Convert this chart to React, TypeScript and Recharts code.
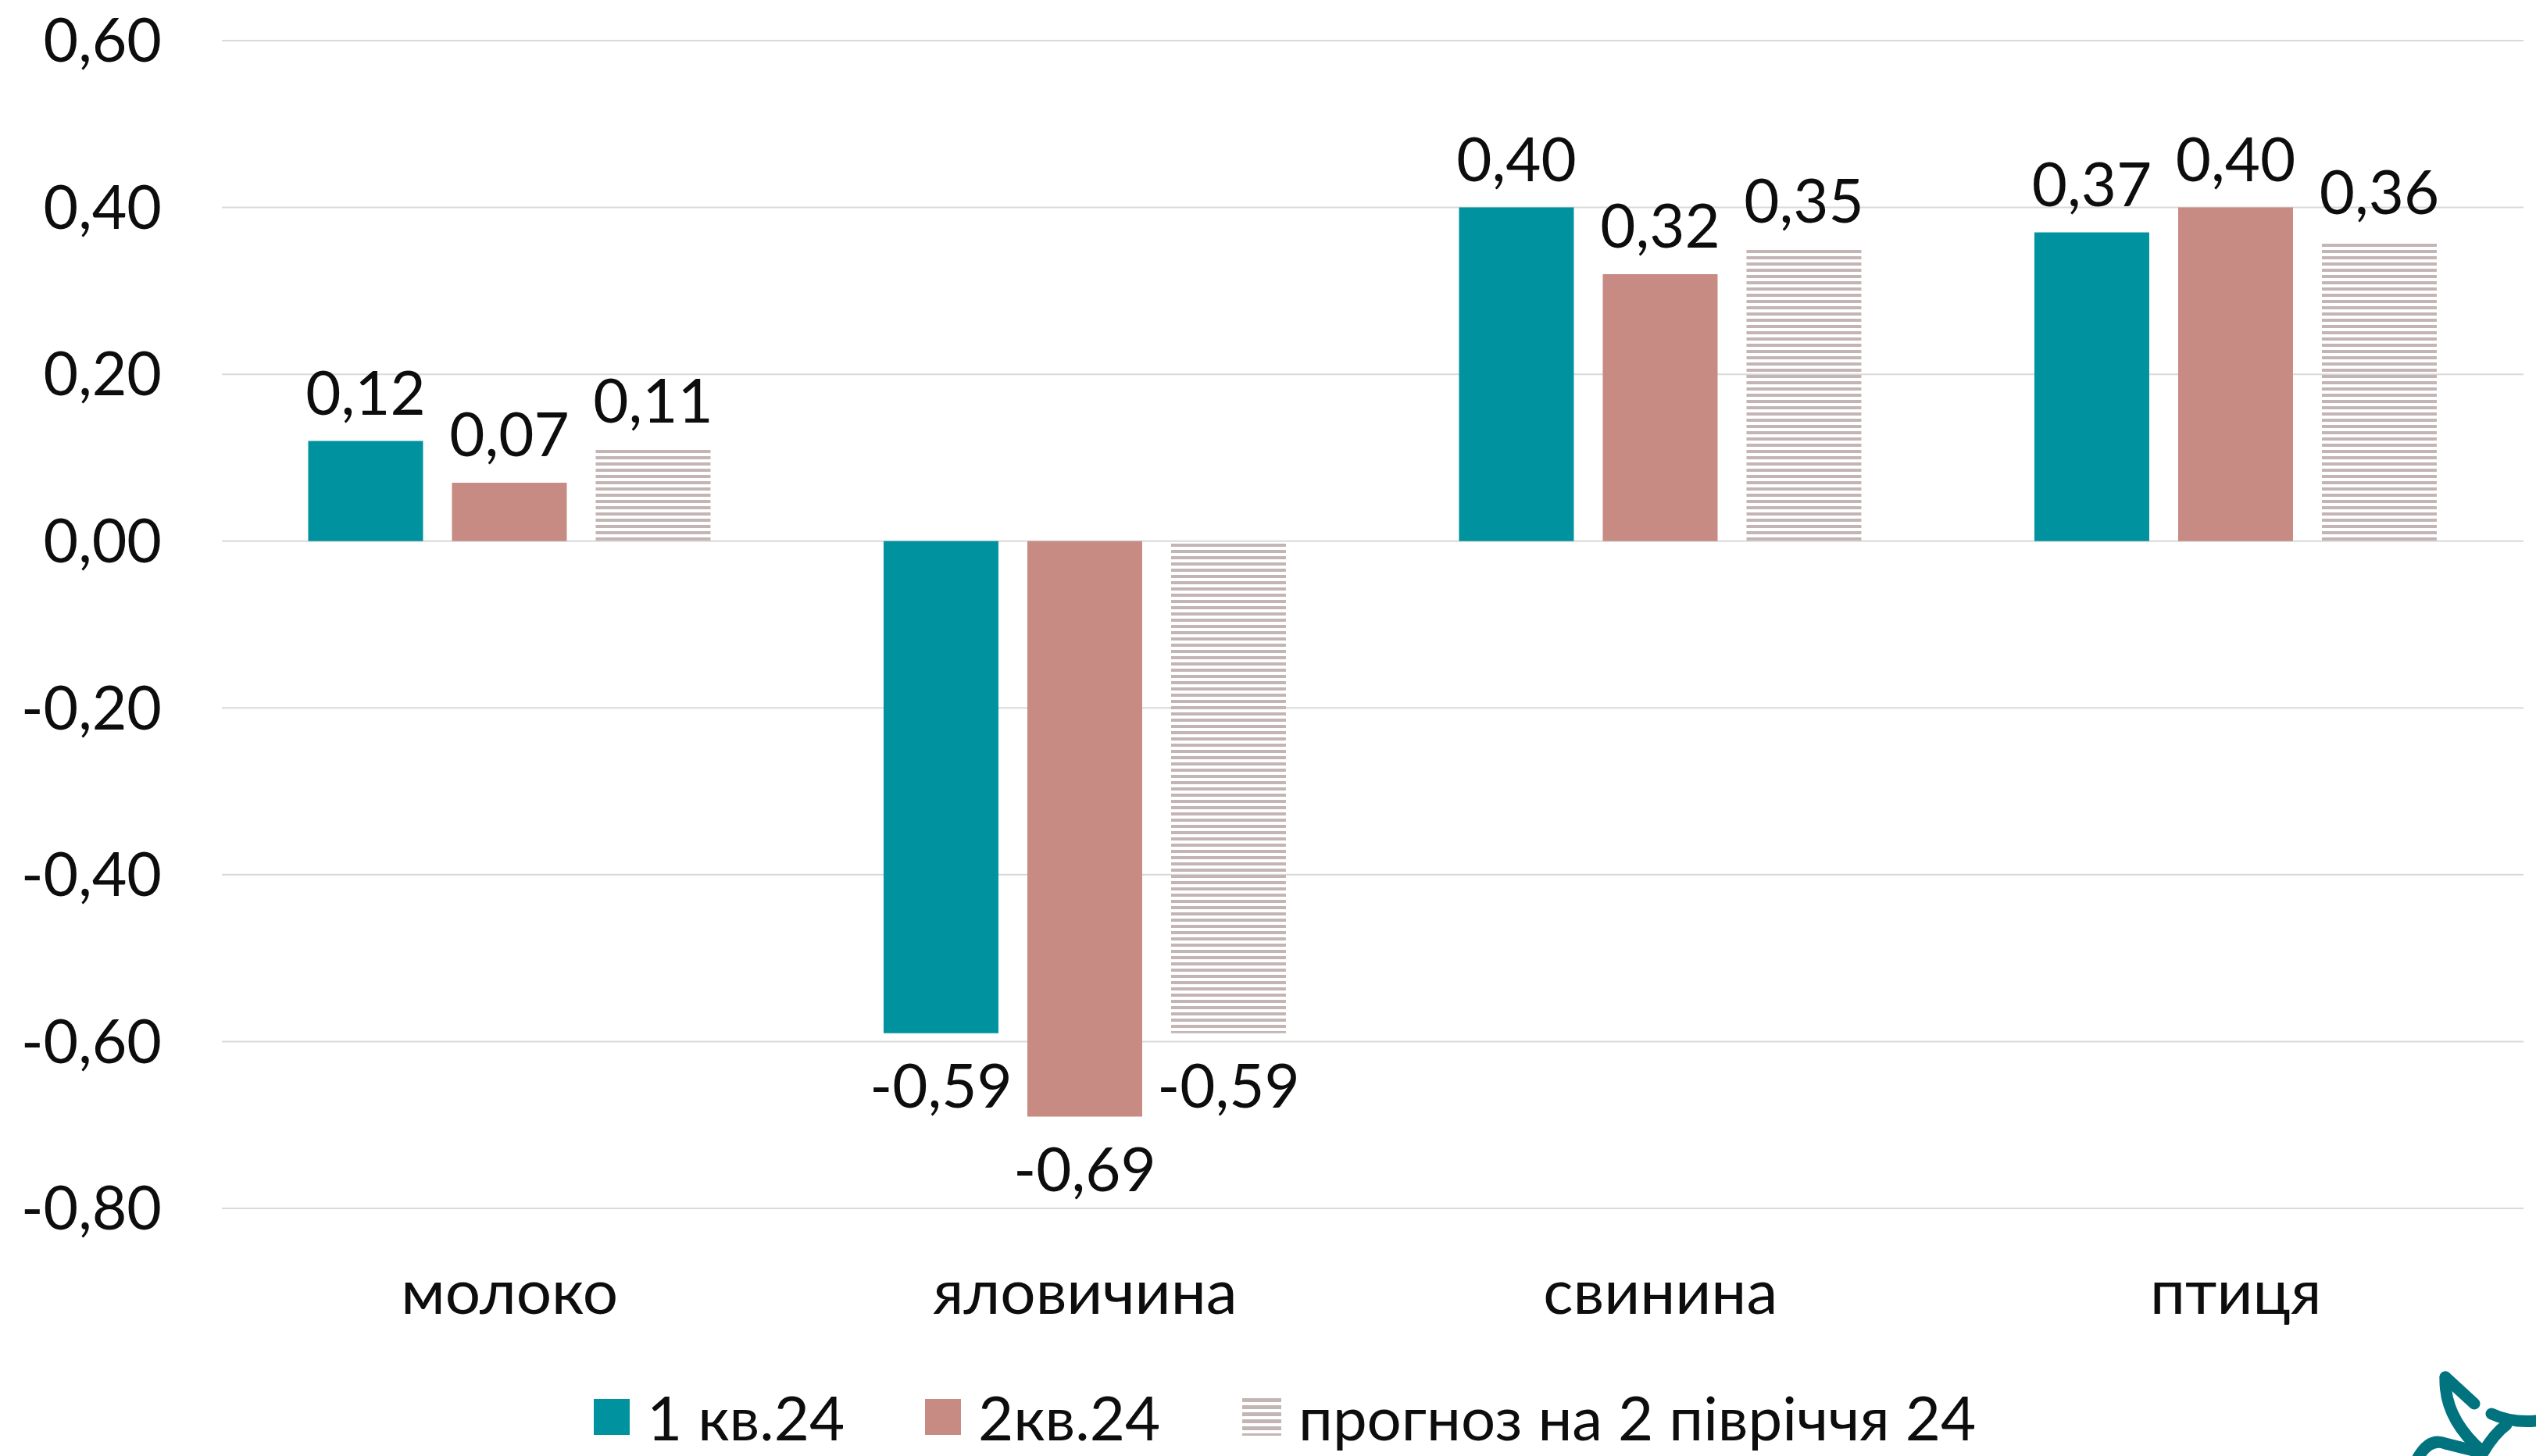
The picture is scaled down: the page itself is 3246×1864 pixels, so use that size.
import { BarChart, Bar, XAxis, YAxis, CartesianGrid, Legend, LabelList } from 'recharts';

const categories = ['молоко', 'яловичина', 'свинина', 'птиця'];
const q1Values = [0.12, -0.59, 0.4, 0.37];
const q2Values = [0.07, -0.69, 0.32, 0.4];
const forecastValues = [0.11, -0.59, 0.35, 0.36];
const yTicks = [-0.8, -0.6, -0.4, -0.2, 0, 0.2, 0.4, 0.6];
const seriesNames = ['1 кв.24', '2кв.24', 'прогноз на 2 півріччя 24'];

const TEAL = '#00939F';
const ROSE = '#C78B84';
const HATCH = '#C4B5B5';
const TEXT = '#0d0d0d';

const data = categories.map((name, i) => ({
  name,
  q1: q1Values[i],
  q2: q2Values[i],
  forecast: forecastValues[i],
}));

const fmt = (v: number) => v.toFixed(2).replace('.', ',');

const renderLabel = (props: any) => {
  const { x, y, width, height, value } = props;
  const top = Math.min(y, y + height);
  const bottom = Math.max(y, y + height);
  const cx = x + width / 2;
  const ty = value >= 0 ? top - 34 : bottom + 95;
  return (
    <text x={cx} y={ty} textAnchor="middle" fontFamily="Lato" fontSize={78} fill={TEXT}>
      {fmt(Number(value))}
    </text>
  );
};

// legend items laid out like the original (left edges of each swatch)
const legendItemWidths = [424, 406, 1000];

const swatch = (i: number) => {
  if (i === 2) {
    return (
      <div
        style={{
          width: 50,
          height: 48,
          background: `repeating-linear-gradient(to bottom, ${HATCH} 0px, ${HATCH} 5px, transparent 5px, transparent 9px)`,
        }}
      />
    );
  }
  return <div style={{ width: 46, height: 46, background: i === 0 ? TEAL : ROSE }} />;
};

const renderLegend = () => (
  <div
    style={{
      height: 76,
      display: 'flex',
      alignItems: 'center',
      paddingLeft: 760,
      fontFamily: 'Lato',
      fontSize: 78,
      color: TEXT,
      position: 'relative',
      top: -12,
    }}
  >
    {seriesNames.map((n, i) => (
      <div key={n} style={{ display: 'flex', alignItems: 'center', width: legendItemWidths[i], flexShrink: 0 }}>
        {swatch(i)}
        <span style={{ marginLeft: 22, lineHeight: 1, whiteSpace: 'nowrap' }}>{n}</span>
      </div>
    ))}
  </div>
);

export default function App() {
  return (
    <div style={{ position: 'absolute', left: 0, top: 0, width: 3246, height: 1864, background: '#fff' }}>
      <BarChart
        width={3246}
        height={1864}
        data={data}
        margin={{ top: 52, right: 16, left: 0, bottom: 0 }}
        barCategoryGap="15%"
        barGap={37}
      >
        <defs>
          <pattern id="hatch" width="10" height="8" patternUnits="userSpaceOnUse">
            <rect x="0" y="0" width="10" height="4" fill={HATCH} />
          </pattern>
        </defs>
        <CartesianGrid vertical={false} stroke="#d9d9d9" strokeWidth={2} />
        <XAxis
          dataKey="name"
          axisLine={false}
          tickLine={false}
          height={241}
          tickMargin={72}
          interval={0}
          tick={{ fontFamily: 'Lato', fontSize: 80, fill: TEXT }}
        />
        <YAxis
          domain={[-0.8, 0.6]}
          ticks={yTicks}
          tickFormatter={fmt}
          axisLine={false}
          tickLine={false}
          width={284}
          tickMargin={71}
          tick={{ fontFamily: 'Lato', fontSize: 77, fill: TEXT }}
        />
        <Legend verticalAlign="bottom" content={renderLegend} />
        <Bar dataKey="q1" name={seriesNames[0]} fill={TEAL} isAnimationActive={false}>
          <LabelList dataKey="q1" content={renderLabel} />
        </Bar>
        <Bar dataKey="q2" name={seriesNames[1]} fill={ROSE} isAnimationActive={false}>
          <LabelList dataKey="q2" content={renderLabel} />
        </Bar>
        <Bar dataKey="forecast" name={seriesNames[2]} fill="url(#hatch)" isAnimationActive={false}>
          <LabelList dataKey="forecast" content={renderLabel} />
        </Bar>
      </BarChart>
      <svg
        width={246}
        height={164}
        style={{ position: 'absolute', left: 3000, top: 1700 }}
        fill="none"
        stroke="#00737F"
        strokeWidth={15}
        strokeLinecap="round"
      >
        <path d="M130 63 L167 97" />
        <path d="M130 63 Q128 115 177 158" />
        <path d="M189 110 Q215 122 246 119" />
        <path d="M208 124 Q192 136 178 160" />
        <path d="M95 166 Q110 140 130 148 L170 158" />
      </svg>
    </div>
  );
}
